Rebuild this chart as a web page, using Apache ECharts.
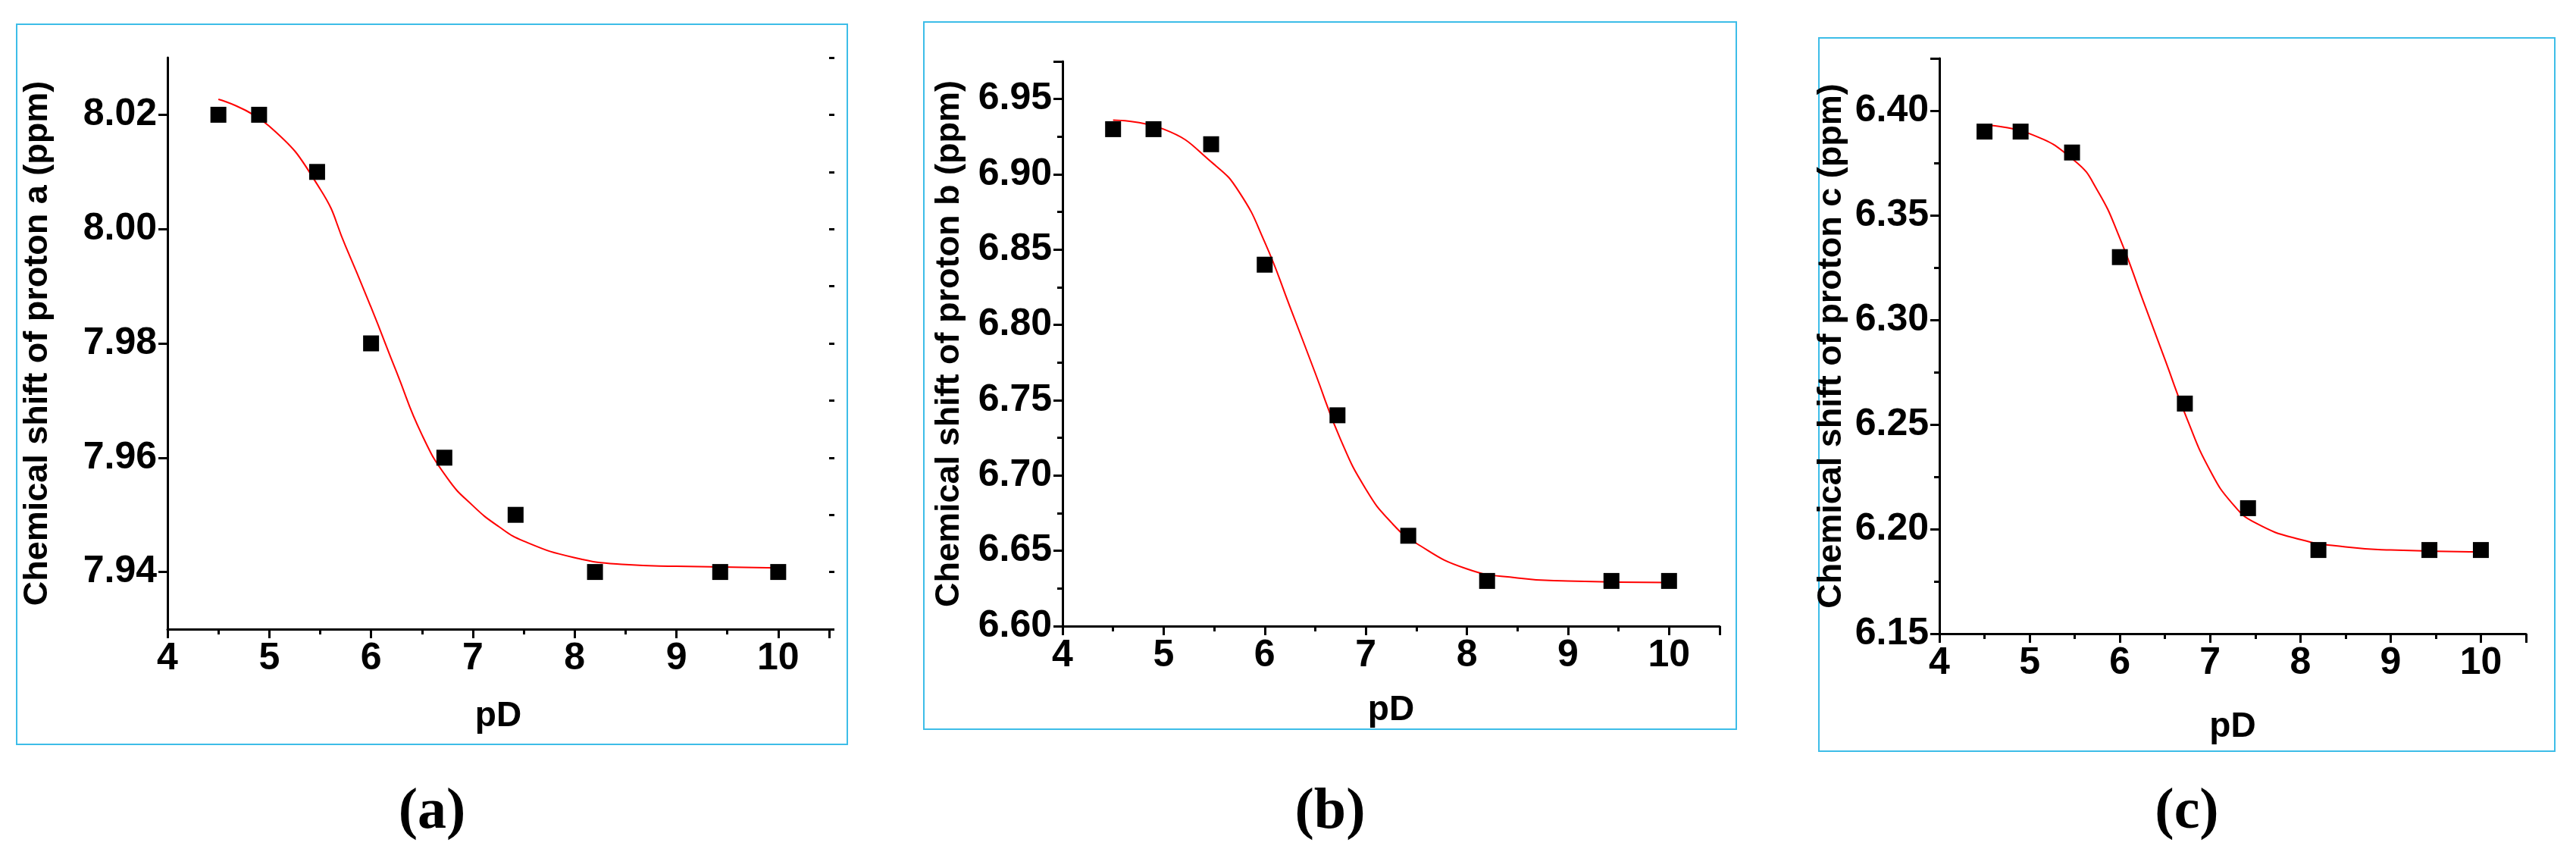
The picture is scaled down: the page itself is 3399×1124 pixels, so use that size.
<!DOCTYPE html>
<html>
<head>
<meta charset="utf-8">
<script src="https://cdn.jsdelivr.net/npm/echarts@6/dist/echarts.min.js"></script>
<style>
  html, body { margin: 0; padding: 0; background: #fff; }
  #chart { width: 3399px; height: 1124px; }
</style>
</head>
<body>
<div id="chart"></div>
<script>
"use strict";

//
// Data
//
const pd_points = [4.5, 4.9, 5.47, 6.0, 6.72, 7.42, 8.2, 9.43, 10.0];
const shift_a = [8.02, 8.02, 8.01, 7.98, 7.96, 7.95, 7.94, 7.94, 7.94];
const shift_b = [6.93, 6.93, 6.92, 6.84, 6.74, 6.66, 6.63, 6.63, 6.63];
const shift_c = [6.39, 6.39, 6.38, 6.33, 6.26, 6.21, 6.19, 6.19, 6.19];

const pd_fit = [4.5, 5.0, 5.5, 5.75, 6.0, 6.25, 6.5, 6.75, 7.0, 7.25, 7.5, 8.0, 8.5, 9.0, 10.0];
const fit_a = [8.0227, 8.018, 8.007, 7.997, 7.9863, 7.975, 7.964, 7.9564, 7.9516, 7.948, 7.9454, 7.9425, 7.9413, 7.941, 7.9407];
const fit_b = [6.936, 6.930, 6.9066, 6.888, 6.855, 6.812, 6.768, 6.724, 6.691, 6.669, 6.655, 6.638, 6.632, 6.630, 6.629];
const fit_c = [6.393, 6.389, 6.376, 6.362, 6.339, 6.310, 6.281, 6.252, 6.228, 6.212, 6.203, 6.195, 6.1915, 6.190, 6.189];

const ticks_a = [7.94, 7.96, 7.98, 8.00, 8.02];

const panels = [
  { name: "Chemical shift of proton a (ppm)", pts: shift_a, fit: fit_a, caption: "a",
    min: 7.93, max: 8.03, interval: 0.01, custom: ticks_a,
    grid: { left: 221, top: 76, width: 873, height: 754 },
    box: [22, 32, 1096, 950], yGap: 149, xGap: 92 },
  { name: "Chemical shift of proton b (ppm)", pts: shift_b, fit: fit_b, caption: "b",
    min: 6.60, max: 6.975, interval: 0.05,
    grid: { left: 1402, top: 81, width: 867, height: 745 },
    box: [1219, 29, 1072, 933], yGap: 127, xGap: 88 },
  { name: "Chemical shift of proton c (ppm)", pts: shift_c, fit: fit_c, caption: "c",
    min: 6.15, max: 6.425, interval: 0.05,
    grid: { left: 2559, top: 77, width: 774, height: 759 },
    box: [2400, 50, 971, 941], yGap: 120, xGap: 100 },
];

const FONT = "Liberation Sans";
const black = { color: "#000", width: 3 };
const axisStyle = {
  axisLine: { show: true, lineStyle: black },
  axisTick: { show: true, length: 12, lineStyle: black },
  minorTick: { show: true, splitNumber: 2, length: 7, lineStyle: black },
  splitLine: { show: false },
};
const labelStyle = { fontFamily: FONT, fontWeight: "bold", fontSize: 50, color: "#000", margin: 14 };

const grids = [], xAxes = [], yAxes = [], series = [], graphics = [];
panels.forEach((p, i) => {
  grids.push(p.grid);
  xAxes.push({
    gridIndex: i, type: "value", min: 4, max: 10.5, interval: 1,
    name: "pD", nameLocation: "middle", nameGap: p.xGap,
    nameTextStyle: { fontFamily: FONT, fontWeight: "bold", fontSize: 46, color: "#000" },
    axisLabel: { ...labelStyle, formatter: (v) => (v > 10 ? "" : String(v)) },
    ...axisStyle,
  });
  const yIndex = yAxes.length;
  if (p.custom) {
    // major ticks + labels at custom values, short ticks every interval on an overlay axis
    yAxes.push({
      gridIndex: i, type: "value", min: p.min, max: p.max, interval: p.interval,
      name: p.name, nameLocation: "middle", nameGap: p.yGap,
      nameTextStyle: { fontFamily: FONT, fontWeight: "bold", fontSize: 45, color: "#000" },
      axisLabel: { ...labelStyle, customValues: p.custom, formatter: (v) => v.toFixed(2) },
      axisLine: { show: true, lineStyle: black },
      axisTick: { show: true, length: 12, lineStyle: black, customValues: p.custom },
      splitLine: { show: false },
    });
    yAxes.push({
      gridIndex: i, type: "value", min: p.min, max: p.max, interval: p.interval,
      axisLabel: { show: false },
      axisLine: { show: false },
      axisTick: { show: true, length: 7, lineStyle: black },
      splitLine: { show: false },
    });
  } else {
    yAxes.push({
      gridIndex: i, type: "value", min: p.min, max: p.max, interval: p.interval,
      name: p.name, nameLocation: "middle", nameGap: p.yGap,
      nameTextStyle: { fontFamily: FONT, fontWeight: "bold", fontSize: 45, color: "#000" },
      axisLabel: { ...labelStyle, formatter: (v) => (v > p.max - 0.001 ? "" : v.toFixed(2)) },
      ...axisStyle,
    });
  }
  series.push({
    type: "line", xAxisIndex: i, yAxisIndex: yIndex, smooth: true, showSymbol: false,
    lineStyle: { color: "#ff0000", width: 2 },
    data: pd_fit.map((x, k) => [x, p.fit[k]]),
    z: 2,
  });
  series.push({
    type: "scatter", xAxisIndex: i, yAxisIndex: yIndex, symbol: "rect", symbolSize: 21,
    itemStyle: { color: "#000", opacity: 1 },
    data: pd_points.map((x, k) => [x, p.pts[k]]),
    z: 3,
  });
  const [bx, by, bw, bh] = p.box;
  graphics.push({
    type: "rect", shape: { x: bx, y: by, width: bw, height: bh },
    style: { fill: "none", stroke: "#3dbde8", lineWidth: 2 },
  });
  graphics.push({
    type: "text", x: bx + bw / 2, y: 1072,
    style: {
      text: "(" + p.caption + ")", fill: "#000", font: "bold 76px 'Liberation Serif'",
      textAlign: "center", textVerticalAlign: "middle",
    },
  });
});

const chart = echarts.init(document.getElementById("chart"));
chart.setOption({
  animation: false,
  grid: grids,
  xAxis: xAxes,
  yAxis: yAxes,
  series: series,
  graphic: graphics,
});
</script>
</body>
</html>
